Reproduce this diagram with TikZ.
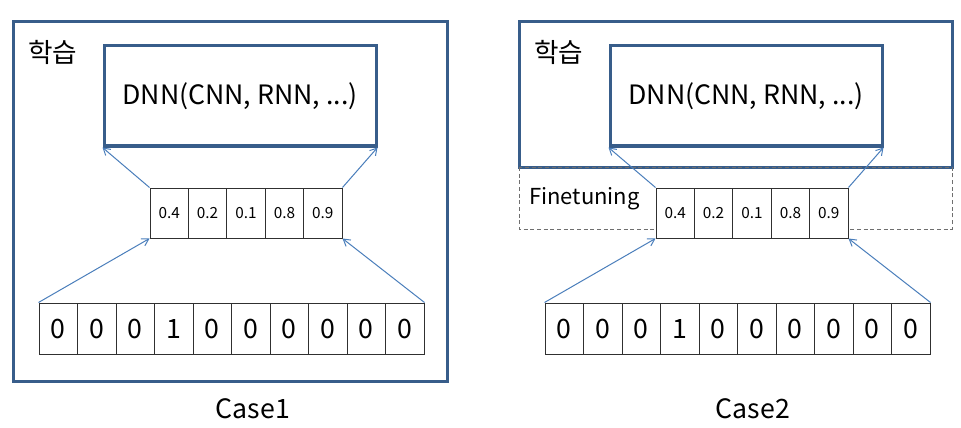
\documentclass[tikz,border=0pt]{standalone}
\usepackage{fontspec}
\setmainfont{Noto Sans CJK KR}
\usetikzlibrary{arrows.meta}
\definecolor{boxblue}{HTML}{385D8A}
\definecolor{arrblue}{HTML}{4A7EBB}
\definecolor{cellline}{HTML}{303030}
\definecolor{dashgray}{HTML}{6F6F6F}
\tikzset{
  outerbox/.style={draw=boxblue, line width=2.25pt},
  dnnbox/.style={draw=boxblue, line width=2.25pt, fill=white, inner sep=0pt,
    minimum width={272*0.75pt}, minimum height={100*0.75pt},
    font=\fontsize{20}{20}\selectfont},
  smallcell/.style={draw=cellline, line width=0.75pt, fill=white, inner sep=0pt,
    minimum width={38.4*0.75pt}, minimum height={50*0.75pt},
    font=\fontsize{11.5}{11.5}\selectfont},
  bigcell/.style={draw=cellline, line width=0.75pt, fill=white, inner sep=0pt,
    minimum width={38.5*0.75pt}, minimum height={51*0.75pt},
    font=\fontsize{20}{20}\selectfont},
  conn/.style={draw=arrblue, line width=0.75pt, -{Straight Barb[length=5pt,width=6pt]}},
  lbl/.style={inner sep=0pt, font=\fontsize{20}{20}\selectfont},
  caselbl/.style={inner sep=0pt, font=\fontsize{20}{20}\selectfont},
  finelbl/.style={inner sep=0pt, anchor=west, font=\fontsize{16.5}{16.5}\selectfont},
  dashbox/.style={draw=dashgray, line width=0.75pt, dash pattern=on 3pt off 2pt}
}
\begin{document}
\begin{tikzpicture}[x=0.75pt,y=-0.75pt]
\useasboundingbox (0,0) rectangle (961,428);

% ---------- Case 1 ----------
\draw[outerbox] (13,22) rectangle (447,381);
\node[lbl, anchor=west] (L hak) at (28,52) {학습};
\node[dnnbox] (L dnn) at (240,96) {DNN(CNN, RNN, ...)};
\foreach \v [count=\i] in {0.4,0.2,0.1,0.8,0.9}
  \node[smallcell] (L s\i) at ({150+38.4*(\i-0.5)},213) {\v};
\foreach \v [count=\i] in {0,0,0,1,0,0,0,0,0,0}
  \node[bigcell] (L b\i) at ({39+38.5*(\i-0.5)},328.5) {\v};
\draw[conn] (L b1.north west) -- (L s1.south west);
\draw[conn] (L b10.north east) -- (L s5.south east);
\draw[conn] (L s1.north west) -- (L dnn.south west);
\draw[conn] (L s5.north east) -- (L dnn.south east);
\node[caselbl] (L case) at (253,409) {Case1};

% ---------- Case 2 ----------
\begin{scope}[xshift={506*0.75pt}]
\draw[outerbox] (13,22) rectangle (446,167);
\draw[dashbox] (13,167) rectangle (446,229);
\node[lbl, anchor=west] (R hak) at (28,52) {학습};
\node[finelbl] (R fine) at (23,199) {Finetuning};
\node[dnnbox] (R dnn) at (240,96) {DNN(CNN, RNN, ...)};
\foreach \v [count=\i] in {0.4,0.2,0.1,0.8,0.9}
  \node[smallcell] (R s\i) at ({150+38.4*(\i-0.5)},213) {\v};
\foreach \v [count=\i] in {0,0,0,1,0,0,0,0,0,0}
  \node[bigcell] (R b\i) at ({39+38.5*(\i-0.5)},328.5) {\v};
\draw[conn] (R b1.north west) -- (R s1.south west);
\draw[conn] (R b10.north east) -- (R s5.south east);
\draw[conn] (R s1.north west) -- (R dnn.south west);
\draw[conn] (R s5.north east) -- (R dnn.south east);
\node[caselbl] (R case) at (247,409) {Case2};
\end{scope}
\end{tikzpicture}
\end{document}
